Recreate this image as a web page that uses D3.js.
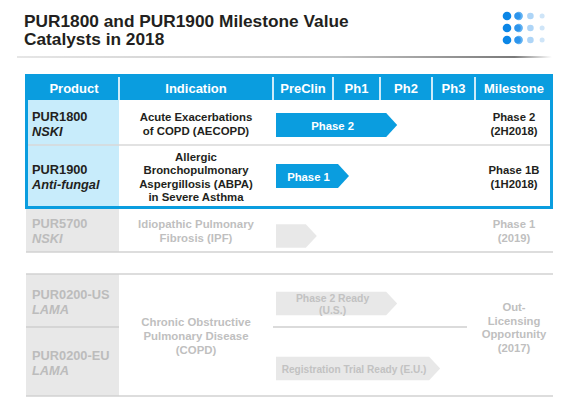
<!DOCTYPE html>
<html>
<head>
<meta charset="utf-8">
<script src="https://cdn.jsdelivr.net/npm/d3@7"></script>
<style>
  body { margin: 0; background: #fff; }
  svg { display: block; font-family: "Liberation Sans", Arial, sans-serif; }
</style>
</head>
<body>
<div id="chart"></div>
<script>
// ---- data ----
const titleLines = ["PUR1800 and PUR1900 Milestone Value", "Catalysts in 2018"];
const headers = ["Product", "Indication", "PreClin", "Ph1", "Ph2", "Ph3", "Milestone"];
const stages = ["PreClin", "Ph1", "Ph2", "Ph3"];
const products = ["PUR1800", "PUR1900", "PUR5700", "PUR0200-US", "PUR0200-EU"];
const productClass = ["NSKI", "Anti-fungal", "NSKI", "LAMA", "LAMA"];
const focusProducts = ["PUR1800", "PUR1900"];
const indications = [
  ["Acute Exacerbations", "of COPD (AECOPD)"],
  ["Allergic", "Bronchopulmonary", "Aspergillosis (ABPA)", "in Severe Asthma"],
  ["Idiopathic Pulmonary", "Fibrosis (IPF)"],
  ["Chronic Obstructive", "Pulmonary Disease", "(COPD)"]
];
const indicationSpan = [1, 1, 1, 2];
// how far each arrow reaches, in stage units (0 = start of PreClin)
const progress = [2.33, 1.34, 0.73, 2.33, 3.19];
const arrowLabels = [["Phase 2"], ["Phase 1"], [], ["Phase 2 Ready", "(U.S.)"], ["Registration Trial Ready (E.U.)"]];
const milestones = [
  ["Phase 2", "(2H2018)"],
  ["Phase 1B", "(1H2018)"],
  ["Phase 1", "(2019)"],
  ["Out-", "Licensing", "Opportunity", "(2017)"]
];
const milestoneSpan = [1, 1, 1, 2];

// ---- layout ----
const width = 568, height = 400;
const colEdges = [25, 119, 273, 333, 380, 432, 475, 553];
const headerTop = 74, headerBottom = 100;
const rowBands = [[100, 145], [145, 207], [207, 252], [274, 327], [327, 396]];
const arrowShift = [2.5, 0, 6.5, 3, 7];
const milestoneShift = [0, 0, 0, -8.5];

const blue = "#0a9ddf";
const lightBlue = "#c8ecfb";
const grayCell = "#e8e8e8";
const grayLine = "#d2d2d2";
const darkText = "#231f20";
const grayText = "#bcbcbc";

const stageX = d3.scaleLinear()
  .domain(d3.range(stages.length + 1))
  .range(colEdges.slice(2, 2 + stages.length + 1));

const svg = d3.select("#chart").append("svg")
  .attr("width", width)
  .attr("height", height);

const defs = svg.append("defs");
const grad = defs.append("linearGradient").attr("id", "rule");
grad.append("stop").attr("offset", "0%").attr("stop-color", "#e6e6e6");
grad.append("stop").attr("offset", "60%").attr("stop-color", "#c4c4c4");
grad.append("stop").attr("offset", "93%").attr("stop-color", "#7a7a7a");
grad.append("stop").attr("offset", "100%").attr("stop-color", "#ffffff");

function lines(g, arr, x, cy, lh, cls) {
  const t = g.append("text")
    .attr("x", x)
    .attr("text-anchor", cls.anchor || "middle")
    .attr("font-size", cls.size)
    .attr("font-weight", "bold")
    .attr("fill", cls.fill);
  arr.forEach((s, i) => {
    t.append("tspan")
      .attr("x", x)
      .attr("y", cy + (i - (arr.length - 1) / 2) * lh)
      .attr("dominant-baseline", "central")
      .attr("font-style", cls.italic && i === arr.length - 1 ? "italic" : null)
      .text(s);
  });
  return t;
}

// title
svg.append("g").selectAll("text")
  .data(titleLines)
  .enter()
  .append("text")
    .attr("x", 24)
    .attr("y", (d, i) => 26.5 + i * 18.8)
    .attr("font-size", 17.3)
    .attr("font-weight", "bold")
    .attr("fill", darkText)
    .text(d => d);

svg.append("rect")
  .attr("x", 17).attr("y", 56)
  .attr("width", 535).attr("height", 2)
  .attr("fill", "url(#rule)");

// logo dots
const logo = svg.append("g");
const dotR = [4.3, 4.2, 3.3, 2.5];
const dotFill = ["#0b86e6", "#5eb0f2", "#aed5f7", "#cfe5f8"];
d3.range(3).forEach(r => {
  d3.range(4).forEach(c => {
    const cx = 507 + c * 11.7, cy = 16 + r * 12;
    logo.append("circle").attr("cx", cx).attr("cy", cy).attr("r", dotR[c]).attr("fill", dotFill[c]);
    if (c === 1) {
      logo.append("circle").attr("cx", cx - 1.2).attr("cy", cy).attr("r", 3.2).attr("fill", "#2d95ec");
    }
  });
});

// header
svg.append("rect")
  .attr("x", colEdges[0]).attr("y", headerTop)
  .attr("width", colEdges[7] - colEdges[0]).attr("height", headerBottom - headerTop)
  .attr("fill", blue);

svg.append("g").selectAll("line")
  .data(colEdges.slice(1, 7))
  .enter()
  .append("line")
    .attr("x1", d => d).attr("x2", d => d)
    .attr("y1", headerTop + 3).attr("y2", headerBottom)
    .attr("stroke", "#fff").attr("stroke-width", 1.6);

svg.append("g").selectAll("text")
  .data(headers)
  .enter()
  .append("text")
    .attr("x", (d, i) => (colEdges[i] + colEdges[i + 1]) / 2 + (i === 0 ? 2 : 0))
    .attr("y", (headerTop + headerBottom) / 2 + 1)
    .attr("dominant-baseline", "central")
    .attr("text-anchor", "middle")
    .attr("font-size", 13)
    .attr("font-weight", "bold")
    .attr("fill", "#fff")
    .text(d => d);

// product cells
const isFocus = products.map(p => focusProducts.includes(p));
svg.append("g").selectAll("rect")
  .data(rowBands)
  .enter()
  .append("rect")
    .attr("x", (d, i) => isFocus[i] ? colEdges[0] + 2 : colEdges[0] + 1)
    .attr("y", d => d[0])
    .attr("width", (d, i) => colEdges[1] - colEdges[0] - (isFocus[i] ? 2 : 1))
    .attr("height", d => d[1] - d[0])
    .attr("fill", (d, i) => isFocus[i] ? lightBlue : grayCell);

// grid lines
const grid = svg.append("g");
grid.append("line")
  .attr("x1", colEdges[0] + 2).attr("x2", colEdges[7] - 2)
  .attr("y1", rowBands[0][1]).attr("y2", rowBands[0][1])
  .attr("stroke", "#d9d9d9").attr("stroke-width", 1.5);
[rowBands[2][1], rowBands[3][0], rowBands[4][1]].forEach(y => {
  grid.append("line")
    .attr("x1", colEdges[0] + 1).attr("x2", colEdges[7])
    .attr("y1", y).attr("y2", y)
    .attr("stroke", grayLine).attr("stroke-width", 1.5);
});
grid.append("line")
  .attr("x1", colEdges[0] + 1).attr("x2", colEdges[1])
  .attr("y1", rowBands[3][1]).attr("y2", rowBands[3][1])
  .attr("stroke", "#cfcfcf").attr("stroke-width", 1.5);
grid.append("line")
  .attr("x1", colEdges[2]).attr("x2", colEdges[6] - 8)
  .attr("y1", rowBands[3][1]).attr("y2", rowBands[3][1])
  .attr("stroke", "#cfcfcf").attr("stroke-width", 1.5);

// product text
products.forEach((p, i) => {
  const cy = (rowBands[i][0] + rowBands[i][1]) / 2 + 1;
  lines(svg, [p, productClass[i]], 32, cy, 15,
    { anchor: "start", size: 12.8, fill: isFocus[i] ? darkText : grayText, italic: true });
});

// indication text
let r0 = 0;
indications.forEach((ind, i) => {
  const top = rowBands[r0][0], bot = rowBands[r0 + indicationSpan[i] - 1][1];
  const focus = isFocus[r0];
  lines(svg, ind, (colEdges[1] + colEdges[2]) / 2, (top + bot) / 2 + 1, ind.length > 3 ? 13.4 : 14,
    { size: 11.4, fill: focus ? darkText : "#bfbfbf" });
  r0 += indicationSpan[i];
});

// milestone text
r0 = 0;
milestones.forEach((m, i) => {
  const top = rowBands[r0][0], bot = rowBands[r0 + milestoneSpan[i] - 1][1];
  const focus = isFocus[r0];
  lines(svg, m, (colEdges[6] + colEdges[7]) / 2, (top + bot) / 2 + 1 + milestoneShift[i], m.length > 2 ? 13.7 : 14,
    { size: 11.3, fill: focus ? darkText : "#bfbfbf" });
  r0 += milestoneSpan[i];
});

// arrows
const arrowH = 24, tipLen = 11, arrowStart = 0.05;
const arrows = svg.append("g");
progress.forEach((v, i) => {
  const x0 = stageX(arrowStart), x1 = stageX(v);
  const cy = (rowBands[i][0] + rowBands[i][1]) / 2 + arrowShift[i];
  const h = isFocus[i] ? arrowH : 23.5;
  const pts = [
    [x0, cy - h / 2], [x1 - tipLen, cy - h / 2], [x1, cy],
    [x1 - tipLen, cy + h / 2], [x0, cy + h / 2]
  ];
  arrows.append("path")
    .attr("d", d3.line()(pts) + "Z")
    .attr("fill", isFocus[i] ? blue : grayCell);
  if (arrowLabels[i].length) {
    lines(arrows, arrowLabels[i], (x0 + x1 - tipLen) / 2 + 1.5, cy + 0.5,
      12, { size: isFocus[i] ? 11.3 : (arrowLabels[i][0].length > 20 ? 10.1 : 10.4), fill: isFocus[i] ? "#fff" : "#c2c2c2" });
  }
});

// focus border
svg.append("rect")
  .attr("x", colEdges[0] + 1.5).attr("y", headerTop + 1.5)
  .attr("width", colEdges[7] - colEdges[0] - 3)
  .attr("height", rowBands[1][1] - headerTop - 3 + 2)
  .attr("fill", "none")
  .attr("stroke", blue)
  .attr("stroke-width", 3);
</script>
</body>
</html>
